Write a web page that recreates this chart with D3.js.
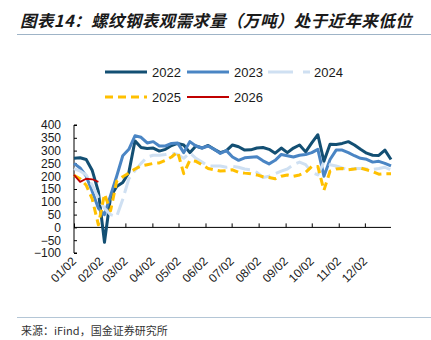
<!DOCTYPE html>
<html>
<head>
<meta charset="utf-8">
<script src="https://cdn.jsdelivr.net/npm/d3@7"></script>
<style>
  html, body { margin: 0; padding: 0; background: #fff; }
  svg { display: block; }
</style>
</head>
<body>
<div id="chart"></div>
<script>
// weekly apparent demand, one value per week starting 01/02
const s2022 = [270, 272, 265, 222, 140, -58, 120, 160, 175, 215, 338, 312, 308, 310, 298, 305, 320, 328, 322, 292,
  318, 310, 320, 305, 292, 300, 322, 315, 302, 303, 310, 312, 305, 290, 310, 292, 310, 322, 295, 330,
  362, 258, 325, 324, 328, 335, 322, 305, 290, 282, 281, 302, 265];
const s2023 = [250, 232, 200, 140, 75, 50, 125, 200, 280, 305, 358, 352, 330, 335, 318, 318, 328, 330, 292, 335,
  318, 310, 318, 305, 289, 300, 275, 262, 272, 274, 276, 260, 248, 262, 285, 280, 275, 282, 285, 292,
  305, 200, 265, 302, 302, 292, 280, 270, 266, 255, 258, 250, 240];
const s2024 = [230, 220, 205, 165, 115, 75, 50, 42, 110, 190, 222, 250, 275, 282, 282, 285, 290, 285, 270, 292,
  270, 255, 240, 240, 240, 235, 238, 235, 228, 225, 215, 195, 200, 210, 220, 228, 245, 255, 245, 215,
  205, 255, 245, 240, 232, 225, 230, 230, 228, 226, 230, 235, 224];
const s2025 = [204, 190, 165, 110, 10, 130, 65, 180, 198, 212, 228, 240, 245, 250, 252, 262, 275, 295, 210, 262,
  258, 245, 230, 225, 220, 222, 225, 215, 212, 210, 205, 198, 195, 190, 200, 205, 200, 205, 215, 238,
  238, 145, 220, 228, 230, 225, 228, 232, 225, 218, 208, 210, 210];
const s2026 = [205, 178, 190, 188, 178];

const years = ["2022", "2023", "2024", "2025", "2026"];
const yTicks = [400, 350, 300, 250, 200, 150, 100, 50, 0, -50, -100];
const monthLabels = ["01/02", "02/02", "03/02", "04/02", "05/02", "06/02",
  "07/02", "08/02", "09/02", "10/02", "11/02", "12/02"];

const title = "图表14：螺纹钢表观需求量（万吨）处于近年来低位";
const source = "来源：iFind，国金证券研究所";

const width = 431;
const height = 340;

// series styling, keyed by year
const styles = {
  "2022": { color: "#134f73", width: 3, dash: null },
  "2023": { color: "#4a85c4", width: 3, dash: null },
  "2024": { color: "#cfe0f2", width: 3, dash: "17,6" },
  "2025": { color: "#ffc000", width: 3, dash: "8,5" },
  "2026": { color: "#c00000", width: 1.8, dash: null },
};
const seriesData = { "2022": s2022, "2023": s2023, "2024": s2024, "2025": s2025, "2026": s2026 };

// a reference (non-leap) year: week i falls on Jan 2 + 7i days
const start = new Date(2023, 0, 2);
const weekDate = (i) => d3.timeDay.offset(start, 7 * i);

const x = d3.scaleTime()
  .domain([start, weekDate(52)])
  .range([74, 391]);

const y = d3.scaleLinear()
  .domain([-100, 400])
  .range([253, 125]);

const svg = d3.select("#chart")
  .append("svg")
  .attr("width", width)
  .attr("height", height)
  .attr("viewBox", `0 0 ${width} ${height}`);

// title + rule under it
svg.append("text")
  .attr("x", 20)
  .attr("y", 27)
  .attr("font-family", "'Noto Sans CJK SC', sans-serif")
  .attr("font-size", 16.5)
  .attr("font-weight", 700)
  .attr("font-style", "italic")
  .attr("letter-spacing", 0.4)
  .attr("fill", "#1a1a1a")
  .text(title);

svg.append("line")
  .attr("x1", 17).attr("x2", width)
  .attr("y1", 34.5).attr("y2", 34.5)
  .attr("stroke", "#9fb4c7")
  .attr("stroke-width", 1.2);

// legend
const legendPos = [
  { x: 105, y: 72 }, { x: 187, y: 72 }, { x: 268, y: 72 },
  { x: 105, y: 97 }, { x: 187, y: 97 },
];
const legend = svg.append("g")
  .selectAll("g")
  .data(years)
  .join("g")
  .attr("transform", (d, i) => `translate(${legendPos[i].x},${legendPos[i].y})`);

legend.append("line")
  .attr("x1", 0).attr("x2", 42)
  .attr("stroke", (d) => styles[d].color)
  .attr("stroke-width", (d) => styles[d].width)
  .attr("stroke-dasharray", (d) => d === "2024" ? "25,10" : styles[d].dash);

legend.append("text")
  .attr("x", (d) => d === "2024" ? 46 : 47)
  .attr("y", 4.5)
  .attr("font-family", "'Liberation Sans', Arial, sans-serif")
  .attr("font-size", 13)
  .attr("fill", "#1a1a1a")
  .text((d) => d);

// y axis (ticks point inward)
const yAxis = svg.append("g")
  .attr("transform", "translate(74,0)")
  .call(d3.axisRight(y).tickValues(yTicks).tickSize(3).tickFormat(d3.format("d")));
yAxis.select(".domain").attr("stroke", "#000").attr("d", `M3,${y(400)}H0V${y(-100)}H3`);
yAxis.selectAll(".tick line").attr("stroke", "#000");
yAxis.selectAll(".tick text")
  .attr("x", -13)
  .attr("text-anchor", "end")
  .attr("font-family", "'Liberation Sans', Arial, sans-serif")
  .attr("font-size", 12)
  .attr("fill", "#1a1a1a");

// x axis on the zero line, ticks pointing up
const monthTicks = monthLabels.map((m, i) => new Date(2023, i, 2));
const xAxis = svg.append("g")
  .attr("transform", `translate(0,${y(0)})`)
  .call(d3.axisTop(x).tickValues(monthTicks).tickSize(4).tickFormat(""));
xAxis.select(".domain").attr("stroke", "#000").attr("d", `M${x.range()[0]},0H${x.range()[1]}`);
xAxis.selectAll(".tick line").attr("stroke", "#000");

// rotated month labels below the plot
svg.append("g")
  .selectAll("text")
  .data(monthTicks)
  .join("text")
  .attr("transform", (d) => `translate(${x(d) + 3},${262}) rotate(-45)`)
  .attr("text-anchor", "end")
  .attr("font-family", "'Liberation Sans', Arial, sans-serif")
  .attr("font-size", 12)
  .attr("fill", "#1a1a1a")
  .text((d, i) => monthLabels[i]);

// series lines
const line = d3.line()
  .x((v, i) => x(weekDate(i)))
  .y((v) => y(v));

svg.append("g")
  .selectAll("path")
  .data(years)
  .join("path")
  .attr("fill", "none")
  .attr("stroke", (d) => styles[d].color)
  .attr("stroke-width", (d) => styles[d].width)
  .attr("stroke-dasharray", (d) => styles[d].dash)
  .attr("stroke-linejoin", "round")
  .attr("d", (d) => line(seriesData[d]));

// footer rule + source
svg.append("line")
  .attr("x1", 17).attr("x2", width)
  .attr("y1", 317.5).attr("y2", 317.5)
  .attr("stroke", "#b4c6d6")
  .attr("stroke-width", 1.2);

svg.append("text")
  .attr("x", 21)
  .attr("y", 335)
  .attr("font-family", "'Noto Sans CJK SC', sans-serif")
  .attr("font-size", 11)
  .attr("fill", "#333")
  .text(source);
</script>
</body>
</html>
